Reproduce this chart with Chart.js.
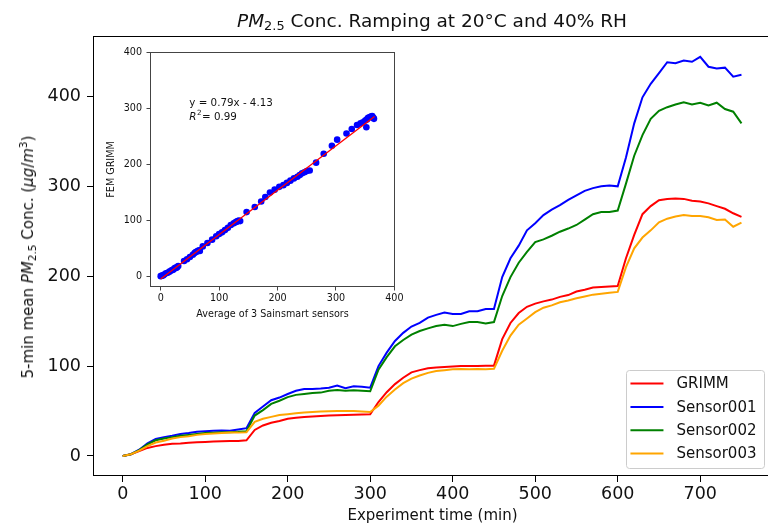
<!DOCTYPE html>
<html>
<head>
<meta charset="utf-8">
<script src="https://cdn.jsdelivr.net/npm/chart.js@4/dist/chart.umd.min.js"></script>
<style>
  html, body { margin: 0; padding: 0; background: #fff; overflow: hidden; }
  #wrap { position: relative; width: 768px; height: 527px; overflow: hidden; font-family: "DejaVu Sans", sans-serif; color: #111; }
  #main { position: absolute; left: 0; top: 0; }
  #inset { position: absolute; left: 100px; top: 40px; }
  .title { position: absolute; left: 432px; top: 20px; transform: translate(-50%, -50%); font-size: 18.5px; white-space: nowrap; }
  .ylabel { position: absolute; left: 28px; top: 257px; transform: translate(-50%, -50%) rotate(-90deg); font-size: 15px; white-space: nowrap; }
  sub { font-size: 70%; vertical-align: -0.25em; line-height: 0; }
  sup { font-size: 70%; vertical-align: 0.55em; line-height: 0; }
</style>
</head>
<body>
<div id="wrap">
  <canvas id="main" width="790" height="527"></canvas>
  <canvas id="inset" width="310" height="290"></canvas>
  <div class="title"><i>PM</i><sub>2.5</sub> Conc. Ramping at 20°C and 40% RH</div>
  <div class="ylabel">5-min mean <i>PM</i><sub>2.5</sub> Conc. (<i>μg</i>/<i>m</i><sup>3</sup>)</div>
</div>
<script>
// experiment time, minutes (5-min means, read every 10 min)
const timeMin = [
  0, 10, 20, 30, 40, 50, 60, 70, 80, 90, 100, 110, 120, 130, 140, 150,
  160, 170, 180, 190, 200, 210, 220, 230, 240, 250, 260, 270, 280, 290, 300,
  310, 320, 330, 340, 350, 360, 370, 380, 390, 400, 410, 420, 430, 440, 450,
  460, 470, 480, 490, 500, 510, 520, 530, 540, 550, 560, 570, 580, 590, 600,
  610, 620, 630, 640, 650, 660, 670, 680, 690, 700, 710, 720, 730, 740, 750
];

const grimm = [
  0, 2, 5.5, 9, 11, 12.5, 13.5, 14, 14.8, 15.3, 15.6, 16, 16.3, 16.6, 16.8, 17.5,
  29, 34, 37, 39, 41.5, 42.5, 43.5, 44, 44.5, 45, 45.3, 45.6, 46, 46.2, 46.5,
  60, 71, 80, 87, 93, 95.5, 97.5, 98.5, 99, 99.5, 100, 100, 100, 100.3, 100.5,
  130, 148, 159, 166, 169.5, 172, 174, 177, 179, 183, 185, 187.5, 188, 188.5, 189,
  220, 246, 269, 278, 284.5, 286, 286.5, 286, 284, 283, 281, 278, 275, 270, 266
];

const sensor001 = [
  0, 2, 7, 14, 19, 21, 22.5, 24.5, 25.5, 27, 27.5, 28, 28.5, 28.2, 29.5, 31,
  48, 55, 62, 65, 69, 72.5, 74.5, 74.5, 75, 76, 78.5, 75.5, 77.5, 77, 76,
  100, 115, 128, 137, 144, 148, 154, 157, 159.5, 158, 158, 161, 161, 163.5, 163.5,
  199, 220, 234, 251, 259, 268, 274, 279, 285, 290, 295, 298, 300, 301, 300,
  332, 370, 399, 414, 426, 438, 437, 440, 438.5, 444, 433, 431, 432, 422, 424
];

const sensor002 = [
  0, 2, 6.5, 13, 17.5, 19.5, 21, 22.5, 23.5, 24.5, 25.5, 26, 26.5, 26.5, 27, 27.5,
  45, 51, 58, 61.5, 65.5, 68, 69, 70, 70.5, 72.5, 73.5, 72.5, 73, 72.5, 72,
  96, 110, 122, 129, 135, 139, 142, 144.5, 146, 144.5, 147, 149, 149, 147.5, 149,
  178, 199, 215, 227, 238, 241, 245, 249.5, 253, 257, 263, 269, 271.5, 271.5, 273,
  303, 334, 357, 375, 384, 388, 391, 393.5, 391, 393, 390, 393, 386, 383, 370
];

const sensor003 = [
  0, 2, 6, 11, 15, 17, 19.5, 21, 22, 23.5, 24.5, 25, 25.5, 26, 26, 26.5,
  38, 41.5, 43.5, 45.5, 46.5, 47.5, 48.5, 49, 49.5, 49.7, 50, 50, 50, 49.5, 49,
  56, 66, 74, 81, 86, 89.5, 92.5, 94.5, 95.5, 96.5, 96.8, 96.5, 96.8, 96.5, 97,
  117, 134, 146, 153, 160, 165, 167.5, 171, 173, 175.5, 177.5, 179.5, 180.5, 181.5, 182.5,
  210, 231, 243, 251, 260, 264, 266.5, 268, 267, 267, 265.5, 262.5, 263, 255, 259.5
];

const seriesNames = ['GRIMM', 'Sensor001', 'Sensor002', 'Sensor003'];
const seriesColors = ['#ff0000', '#0000ff', '#008000', '#ffa500'];

const xTicks = [0, 100, 200, 300, 400, 500, 600, 700];
const yTicks = [0, 100, 200, 300, 400];
const insetTicks = [0, 100, 200, 300, 400];

// inset: average of the 3 sensors vs GRIMM
const scatterAvg = [
  0, 2, 4, 6, 9, 12, 15, 18, 20, 22, 24, 25, 27, 28, 30,
  40, 45, 50, 55, 58, 60, 62, 64, 66, 67,
  72, 80, 88, 95, 100, 105, 110, 115, 120, 125, 128, 130, 132, 134, 136,
  147, 161, 172, 179, 187, 195, 203, 210, 216, 222, 228, 234, 238, 242, 246, 250, 255,
  266, 279, 293, 302, 318, 327, 336, 342, 346, 350, 353, 355, 358, 360, 362, 364, 365, 352
];
const scatterGrimm = [
  1, 2, 2, 4, 6, 7, 9, 11, 12, 13, 15, 16, 16, 17, 19,
  28, 31, 35, 39, 42, 44, 45, 46, 47, 46,
  54, 60, 66, 72, 76, 79, 83, 87, 92, 95, 97, 98, 99, 100, 99,
  115, 124, 134, 142, 150, 155, 160, 163, 167, 171, 175, 178, 181, 184, 186, 188, 189,
  203, 219, 233, 244, 255, 263, 270, 273, 275, 278, 280, 283, 284, 285, 286, 283, 281, 266
];
const fitX = [0, 366];
const fitY = [-4, 285];
const fitEquation = 'y = 0.79x - 4.13';
const fitR2 = '0.99';

const FONT = '"DejaVu Sans", sans-serif';
const INK = '#111';

function fixedTicks(values) {
  return (scale) => { scale.ticks = values.map((v) => ({ value: v })); };
}

// axes box like matplotlib spines
const frame = {
  id: 'frame',
  beforeDraw(chart, args, opts) {
    if (!opts.fill) return;
    const { ctx, chartArea: a } = chart;
    ctx.save();
    ctx.fillStyle = opts.fill;
    ctx.fillRect(a.left, a.top, a.right - a.left, a.bottom - a.top);
    ctx.restore();
  },
  afterDatasetsDraw(chart, args, opts) {
    const { ctx, chartArea: a } = chart;
    ctx.save();
    ctx.strokeStyle = opts.color || '#000';
    ctx.lineWidth = 1;
    ctx.strokeRect(a.left + 0.5, a.top + 0.5, a.right - a.left - 1, a.bottom - a.top - 1);
    ctx.restore();
  },
};

const boxLegend = {
  id: 'boxLegend',
  afterDraw(chart) {
    const { ctx, chartArea } = chart;
    const sets = chart.data.datasets;
    ctx.save();
    ctx.font = '15px ' + FONT;
    const textW = Math.max(...sets.map((d) => ctx.measureText(d.label).width));
    const rowH = 23.3;
    const w = 50 + textW + 8;
    const h = 28.3 + rowH * (sets.length - 1);
    const x = chartArea.right - 7.5 - w;
    const y = chartArea.bottom - 7.5 - h;
    ctx.fillStyle = 'rgba(255,255,255,0.8)';
    ctx.strokeStyle = '#cccccc';
    ctx.lineWidth = 1;
    ctx.beginPath();
    ctx.roundRect(Math.round(x) + 0.5, Math.round(y) + 0.5, Math.round(w), Math.round(h), 3);
    ctx.fill();
    ctx.stroke();
    sets.forEach((d, i) => {
      const cy = y + 13.3 + i * rowH;
      ctx.strokeStyle = d.borderColor;
      ctx.lineWidth = 2;
      ctx.beginPath();
      ctx.moveTo(x + 4, cy);
      ctx.lineTo(x + 37, cy);
      ctx.stroke();
      ctx.fillStyle = INK;
      ctx.textBaseline = 'middle';
      ctx.fillText(d.label, x + 50, cy + 1);
    });
    ctx.restore();
  },
};

const fitNote = {
  id: 'fitNote',
  afterDraw(chart, args, opts) {
    const { ctx, scales } = chart;
    const x = scales.x.getPixelForValue(opts.x);
    const y1 = scales.y.getPixelForValue(opts.y1);
    const y2 = scales.y.getPixelForValue(opts.y2);
    ctx.save();
    ctx.fillStyle = INK;
    ctx.textBaseline = 'middle';
    ctx.font = '10.3px ' + FONT;
    ctx.fillText(fitEquation, x, y1);
    ctx.font = 'italic 10.3px ' + FONT;
    ctx.fillText('R', x, y2);
    let cx = x + ctx.measureText('R').width + 0.5;
    ctx.font = '7.2px ' + FONT;
    ctx.fillText('2', cx, y2 - 4);
    cx += ctx.measureText('2').width + 0.5;
    ctx.font = '10.3px ' + FONT;
    ctx.fillText('= ' + fitR2, cx, y2);
    ctx.restore();
  },
};

const mainSeries = [grimm, sensor001, sensor002, sensor003];

new Chart(document.getElementById('main'), {
  type: 'line',
  data: {
    datasets: mainSeries.map((vals, i) => ({
      label: seriesNames[i],
      data: timeMin.map((t, k) => ({ x: t, y: vals[k] })),
      borderColor: seriesColors[i],
      backgroundColor: seriesColors[i],
      borderWidth: 2,
      pointRadius: 0,
      tension: 0,
      order: mainSeries.length - 1 - i,
    })),
  },
  options: {
    responsive: false,
    animation: false,
    events: [],
    layout: { autoPadding: false, padding: { left: 0, top: 36, right: 18, bottom: 0 } },
    plugins: {
      legend: { display: false },
      tooltip: { enabled: false },
      frame: { color: '#000' },
    },
    scales: {
      x: {
        type: 'linear',
        min: -36,
        max: 787,
        afterBuildTicks: fixedTicks(xTicks),
        afterFit: (s) => { s.height = 51; },
        ticks: { font: { family: FONT, size: 17.5 }, color: INK, padding: 2, maxRotation: 0, autoSkip: false },
        grid: { drawOnChartArea: false, drawTicks: true, tickLength: 6, tickColor: '#000', tickWidth: 1 },
        border: { display: false },
        title: { display: true, text: 'Experiment time (min)', font: { family: FONT, size: 15 }, color: INK, padding: { top: 0, bottom: 2 } },
      },
      y: {
        type: 'linear',
        min: -22.25,
        max: 467.2,
        afterBuildTicks: fixedTicks(yTicks),
        afterFit: (s) => { s.width = 93; },
        ticks: { font: { family: FONT, size: 17.5 }, color: INK, padding: 6 },
        grid: { drawOnChartArea: false, drawTicks: true, tickLength: 6, tickColor: '#000', tickWidth: 1 },
        border: { display: false },
      },
    },
  },
  plugins: [frame, boxLegend],
});

new Chart(document.getElementById('inset'), {
  type: 'scatter',
  data: {
    datasets: [
      {
        type: 'line',
        label: 'fit',
        data: fitX.map((x, i) => ({ x, y: fitY[i] })),
        borderColor: '#ff0000',
        borderWidth: 1.3,
        pointRadius: 0,
        order: 0,
      },
      {
        label: 'points',
        data: scatterAvg.map((x, i) => ({ x, y: scatterGrimm[i] })),
        backgroundColor: '#0000ff',
        borderWidth: 0,
        pointRadius: 3.3,
        order: 1,
      },
    ],
  },
  options: {
    responsive: false,
    animation: false,
    events: [],
    layout: { autoPadding: false, padding: { left: 0, top: 12, right: 15, bottom: 0 } },
    plugins: {
      legend: { display: false },
      tooltip: { enabled: false },
      frame: { color: '#444', fill: '#ffffff' },
      fitNote: { x: 49, y1: 309, y2: 284 },
    },
    scales: {
      x: {
        type: 'linear',
        min: -18.3,
        max: 401,
        afterBuildTicks: fixedTicks(insetTicks),
        afterFit: (s) => { s.height = 43; },
        ticks: { font: { family: FONT, size: 9.6 }, color: INK, padding: 2, maxRotation: 0, autoSkip: false },
        grid: { drawOnChartArea: false, drawTicks: true, tickLength: 3.5, tickColor: '#444', tickWidth: 1 },
        border: { display: false },
        title: { display: true, text: 'Average of 3 Sainsmart sensors', font: { family: FONT, size: 9.6 }, color: INK, padding: { top: 0, bottom: 10 } },
      },
      y: {
        type: 'linear',
        min: -18.3,
        max: 400,
        afterBuildTicks: fixedTicks(insetTicks),
        afterFit: (s) => { s.width = 50; },
        ticks: { font: { family: FONT, size: 9.6 }, color: INK, padding: 4.5 },
        grid: { drawOnChartArea: false, drawTicks: true, tickLength: 3.5, tickColor: '#444', tickWidth: 1 },
        border: { display: false },
        title: { display: true, text: 'FEM GRIMM', font: { family: FONT, size: 9.6 }, color: INK, padding: { top: 6, bottom: 0 } },
      },
    },
  },
  plugins: [frame, fitNote],
});
</script>
</body>
</html>
